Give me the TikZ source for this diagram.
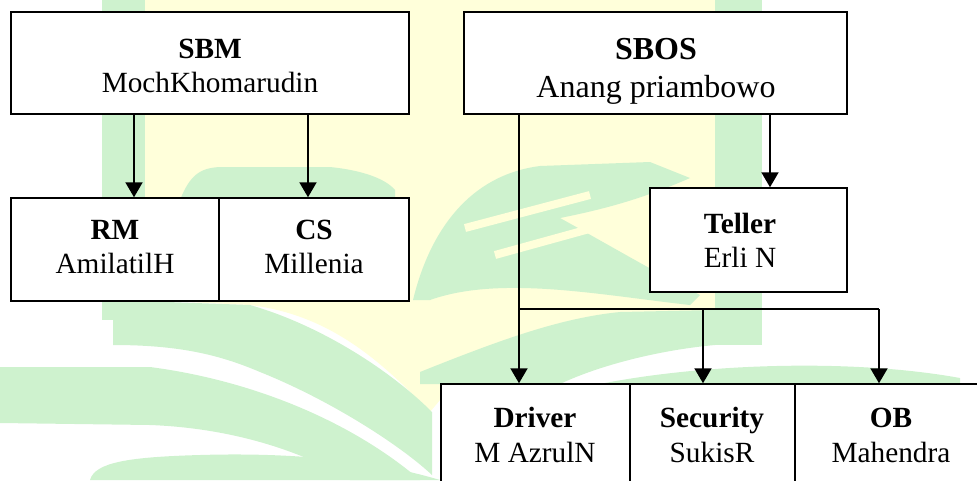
\documentclass[tikz,border=0pt]{standalone}
\usepackage{fontspec}
\setmainfont{Liberation Serif}
\usetikzlibrary{arrows.meta}

\definecolor{wmgreen}{RGB}{206,242,206}
\definecolor{wmyellow}{RGB}{255,255,218}

\newcommand{\txtnormal}{\fontsize{29.3}{34}\selectfont}
\newcommand{\txtlarge}{\fontsize{32}{38}\selectfont}

\tikzset{
  unitbox/.style n args={2}{draw=black, line width=1.5pt, fill=white,
    rectangle, inner sep=0pt, minimum width=#1, minimum height=#2},
  lbl/.style={anchor=base, inner sep=0pt, font=\txtnormal},
  title/.style={lbl, font=\txtnormal\bfseries},
  conn/.style={draw=black, line width=2pt},
  arr/.style={conn, -{Triangle[width=17pt,length=15pt]}}
}

\begin{document}
\begin{tikzpicture}[x=1pt,y=-1pt]
\useasboundingbox (0,0) rectangle (977,480);
\clip (0,0) rectangle (977,480);

% ---- faint emblem in the background ----
\fill[wmyellow] (145,0) -- (715,0) -- (715,335) -- (620,320)
  .. controls (530,330) and (470,350) .. (440,400) -- (430,412)
  .. controls (380,360) and (330,315) .. (250,305) -- (145,300) -- cycle;
\fill[wmgreen] (102,0) rectangle (145,320);
\fill[wmgreen] (715,0) rectangle (762,345);
% sweeping arcs, lower left
\fill[wmgreen] (113,300) -- (250,305) .. controls (320,325) and (390,370) .. (432,412)
  -- (432,475) .. controls (400,445) and (330,400) .. (260,372)
  .. controls (220,355) and (180,345) .. (113,345) -- cycle;
\fill[wmgreen] (0,367) -- (150,367) .. controls (250,380) and (350,420) .. (420,480)
  -- (350,480) .. controls (300,450) and (230,428) .. (150,425) -- (0,423) -- cycle;
\fill[wmgreen] (90,480) .. controls (95,462) and (130,457) .. (200,455)
  .. controls (300,452) and (380,462) .. (440,480) -- cycle;
% sweeping arcs, lower right
\fill[wmgreen] (420,384) -- (420,372) .. controls (500,340) and (560,318) .. (620,312)
  -- (715,310) -- (715,345) .. controls (660,350) and (600,365) .. (560,384) -- cycle;
\fill[wmgreen] (600,384) .. controls (700,364) and (850,358) .. (960,378) -- (960,384) -- cycle;
% leaves
\fill[wmgreen] (180,200) .. controls (190,175) and (200,168) .. (220,167) -- (330,167)
  .. controls (360,170) and (385,178) .. (395,190) -- (395,200) -- cycle;
\fill[wmgreen] (413,300) .. controls (430,230) and (470,175) .. (540,166) -- (650,162)
  -- (690,178) .. controls (640,200) and (600,210) .. (560,218)
  .. controls (600,240) and (660,275) .. (700,295) -- (690,305)
  .. controls (600,295) and (500,275) .. (430,300) -- cycle;
\draw[wmyellow, line width=8pt] (465,228) -- (590,195);
\draw[wmyellow, line width=8pt] (495,255) -- (640,215);

% ---- boxes ----
\node[unitbox={398}{102}] (sbm)  at (210,63) {};
\node[unitbox={383}{102}] (sbos) at (655.5,63) {};
\node[unitbox={208}{103}] (rm)   at (115,249.5) {};
\node[unitbox={190}{103}] (cs)   at (314,249.5) {};
\node[unitbox={197}{104}] (teller) at (748.5,240) {};
\node[unitbox={189}{106}] (driver) at (535.5,437) {};
\node[unitbox={165}{106}] (security) at (712.5,437) {};
\node[unitbox={198}{106}] (ob) at (894,437) {};

% ---- labels ----
\node[title] (sbm-r) at (210,58) {SBM};
\node[lbl]   (sbm-n) at (210,92) {MochKhomarudin};
\node[title, font=\txtlarge\bfseries] (sbos-r) at (656,59) {SBOS};
\node[lbl, font=\txtlarge] (sbos-n) at (656,97) {Anang priambowo};
\node[title] (rm-r) at (115,239) {RM};
\node[lbl]   (rm-n) at (115,273) {AmilatilH};
\node[title] (cs-r) at (314,239) {CS};
\node[lbl]   (cs-n) at (314,273) {Millenia};
\node[title] (teller-r) at (740,233) {Teller};
\node[lbl]   (teller-n) at (740,267) {Erli N};
\node[title] (driver-r) at (535,427) {Driver};
\node[lbl]   (driver-n) at (535,462) {M AzrulN};
\node[title] (security-r) at (712,427) {Security};
\node[lbl]   (security-n) at (712,462) {SukisR};
\node[title] (ob-r) at (891,427) {OB};
\node[lbl]   (ob-n) at (891,462) {Mahendra};

% ---- connectors ----
\coordinate (c-rm) at (134,0);
\coordinate (c-cs) at (308,0);
\coordinate (c-teller) at (770,0);
\coordinate (c-driver) at (519,0);
\coordinate (c-security) at (703,0);
\coordinate (c-ob) at (879,0);
\coordinate (split) at (0,309);

\draw[arr] (sbm.south -| c-rm) -- (rm.north -| c-rm);
\draw[arr] (sbm.south -| c-cs) -- (cs.north -| c-cs);
\draw[arr] (sbos.south -| c-teller) -- (teller.north -| c-teller);
\draw[arr] (sbos.south -| c-driver) -- (driver.north -| c-driver);
\draw[conn, line width=1.7pt] (split -| c-driver) -- (split -| c-ob);
\draw[arr] (split -| c-security) -- (security.north -| c-security);
\draw[arr] (split -| c-ob) -- (ob.north -| c-ob);
\end{tikzpicture}
\end{document}
